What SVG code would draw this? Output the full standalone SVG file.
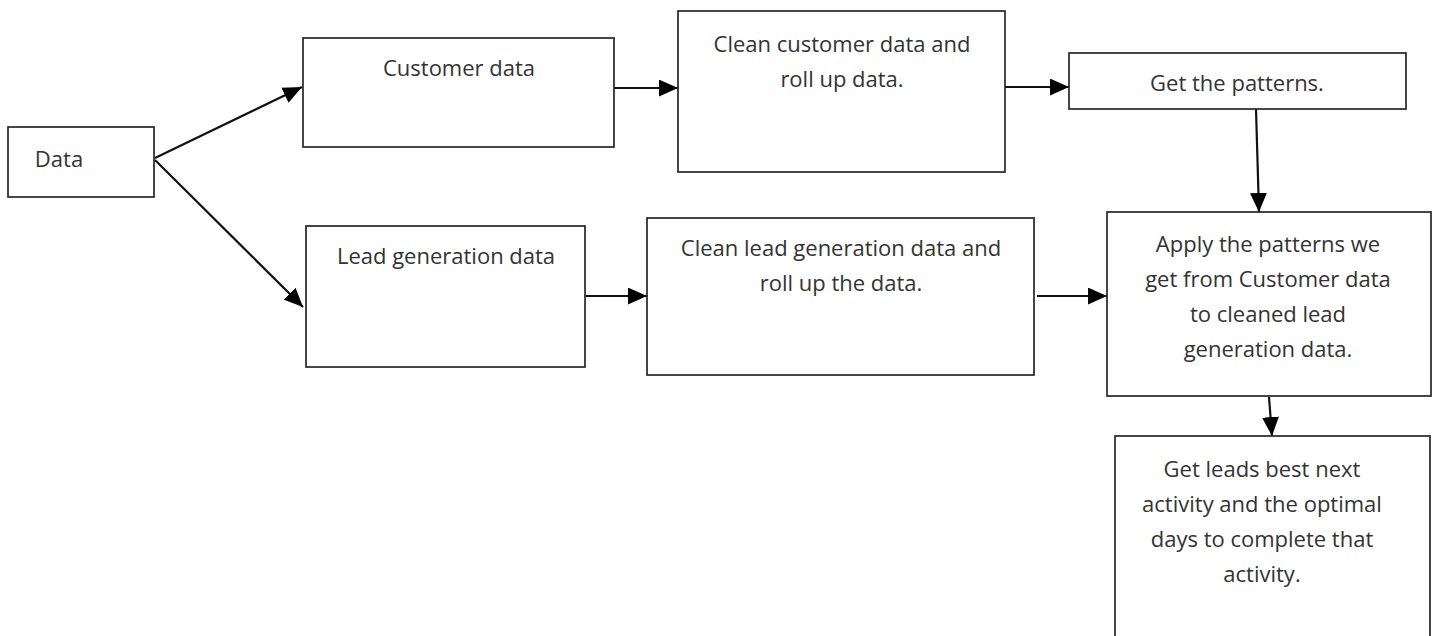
<svg xmlns="http://www.w3.org/2000/svg" width="1437" height="636" viewBox="0 0 1437 636">
  <style>
    .box { fill: #ffffff; stroke: #262626; stroke-width: 1.7; }
    .lbl { font-family: "Open Sans", "Liberation Sans", sans-serif; font-size: 22px; fill: #333333; text-anchor: middle; }
    .edge { fill: none; stroke: #111111; stroke-width: 2.2; marker-end: url(#arrow); }
  </style>
  <defs>
    <marker id="arrow" viewBox="0 0 18 16" refX="18" refY="8" markerWidth="19" markerHeight="17" markerUnits="userSpaceOnUse" orient="auto">
      <path d="M0,0 L18,8 L0,16 Z" fill="#000000"/>
    </marker>
  </defs>
  <rect width="1437" height="636" fill="#ffffff"/>

  <g id="edges">
    <line class="edge" x1="155" y1="158" x2="302" y2="87"/>
    <line class="edge" x1="155" y1="160" x2="303" y2="307"/>
    <line class="edge" x1="612" y1="88" x2="678" y2="88"/>
    <line class="edge" x1="1002" y1="87" x2="1069" y2="87"/>
    <line class="edge" x1="581" y1="296" x2="647" y2="296"/>
    <line class="edge" x1="1037" y1="296" x2="1107" y2="296"/>
    <line class="edge" x1="1256" y1="109" x2="1259" y2="212"/>
    <line class="edge" x1="1269" y1="397" x2="1272" y2="436"/>
  </g>

  <g id="node-data">
    <rect class="box" x="8" y="127" width="146" height="70"/>
    <text class="lbl" x="59" y="167">Data</text>
  </g>

  <g id="node-customer">
    <rect class="box" x="303" y="38" width="311" height="109"/>
    <text class="lbl" x="459" y="76">Customer data</text>
  </g>

  <g id="node-clean-customer">
    <rect class="box" x="678" y="11" width="327" height="161"/>
    <text class="lbl" x="842" y="52">Clean customer data and</text>
    <text class="lbl" x="842" y="87">roll up data.</text>
  </g>

  <g id="node-patterns">
    <rect class="box" x="1069" y="53" width="337" height="56"/>
    <text class="lbl" x="1237" y="91">Get the patterns.</text>
  </g>

  <g id="node-lead">
    <rect class="box" x="306" y="226" width="279" height="141"/>
    <text class="lbl" x="446" y="264">Lead generation data</text>
  </g>

  <g id="node-clean-lead">
    <rect class="box" x="647" y="218" width="387" height="157"/>
    <text class="lbl" x="841" y="256">Clean lead generation data and</text>
    <text class="lbl" x="841" y="291">roll up the data.</text>
  </g>

  <g id="node-apply">
    <rect class="box" x="1107" y="212" width="324" height="184"/>
    <text class="lbl" x="1268" y="252">Apply the patterns we</text>
    <text class="lbl" x="1268" y="287">get from Customer data</text>
    <text class="lbl" x="1268" y="322">to cleaned lead</text>
    <text class="lbl" x="1268" y="357">generation data.</text>
  </g>

  <g id="node-leads">
    <rect class="box" x="1115" y="436" width="315" height="210"/>
    <text class="lbl" x="1262" y="477">Get leads best next</text>
    <text class="lbl" x="1262" y="512">activity and the optimal</text>
    <text class="lbl" x="1262" y="547">days to complete that</text>
    <text class="lbl" x="1262" y="582">activity.</text>
  </g>
</svg>
